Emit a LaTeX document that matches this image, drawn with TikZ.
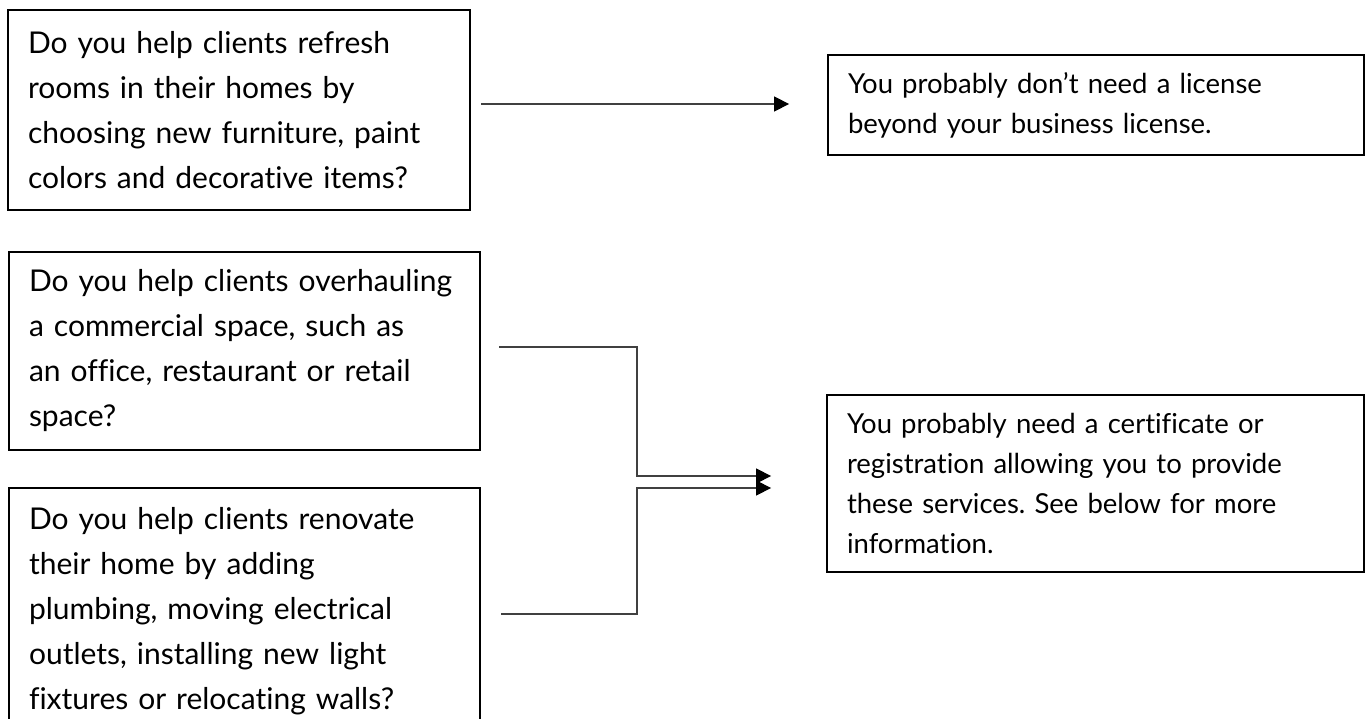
\documentclass[tikz,border=0pt]{standalone}
\usepackage{fontspec}
\setmainfont[Ligatures=NoCommon]{Lato}
\frenchspacing
\usetikzlibrary{arrows.meta}
\begin{document}
\begin{tikzpicture}[x=1pt,y=-1pt,
  qbox/.style={draw,line width=2pt,inner xsep=20pt,inner ysep=0pt,align=left,font=\fontsize{30}{45}\selectfont},
  abox/.style={draw,line width=1.8pt,inner xsep=20pt,inner ysep=0pt,align=left,font=\fontsize{27.5}{40}\selectfont},
  link/.style={draw=black!75,line width=1.3pt,-{Triangle[length=15pt,width=15pt,color=black]}}]
\useasboundingbox (0,0) rectangle (1366,719);
\clip (0,0) rectangle (1366,719);
% questions
\node[qbox,text width=422pt,minimum height=200pt] (qRefresh) at (239,110) {Do you help clients refresh\\rooms in their homes by\\choosing new furniture, paint\\colors and decorative items?};
\node[qbox,text width=431pt,minimum height=198pt] (qCommercial) at (244.5,351) {Do you help clients overhauling\\a commercial space, such as\\an office, restaurant or retail\\space?};
\node[qbox,text width=431pt,minimum height=246pt] (qRenovate) at (244.5,611) {Do you help clients renovate\\their home by adding\\plumbing, moving electrical\\outlets, installing new light\\fixtures or relocating walls?};
% answers
\node[abox,text width=496pt,minimum height=100pt] (aLicense) at (1096,105) {You probably don’t need a license\\beyond your business license.};
\node[abox,text width=497pt,minimum height=177pt] (aCertificate) at (1095.5,483.5) {You probably need a certificate or\\registration allowing you to provide\\these services. See below for more\\information.};
% arrows
\coordinate (s1) at ([xshift=10pt,yshift=6pt]qRefresh.east);
\draw[link,shorten >=38pt] (s1) -- (s1 -| aLicense.west);
\coordinate (s2) at ([xshift=18pt,yshift=4pt]qCommercial.east);
\draw[link] (s2) -- ++(138,0) |- ([xshift=-55pt,yshift=7.5pt]aCertificate.west);
\coordinate (s3) at ([xshift=20pt,yshift=-3pt]qRenovate.east);
\draw[link] (s3) -- ++(136,0) |- ([xshift=-55pt,yshift=-4.5pt]aCertificate.west);
\end{tikzpicture}
\end{document}
